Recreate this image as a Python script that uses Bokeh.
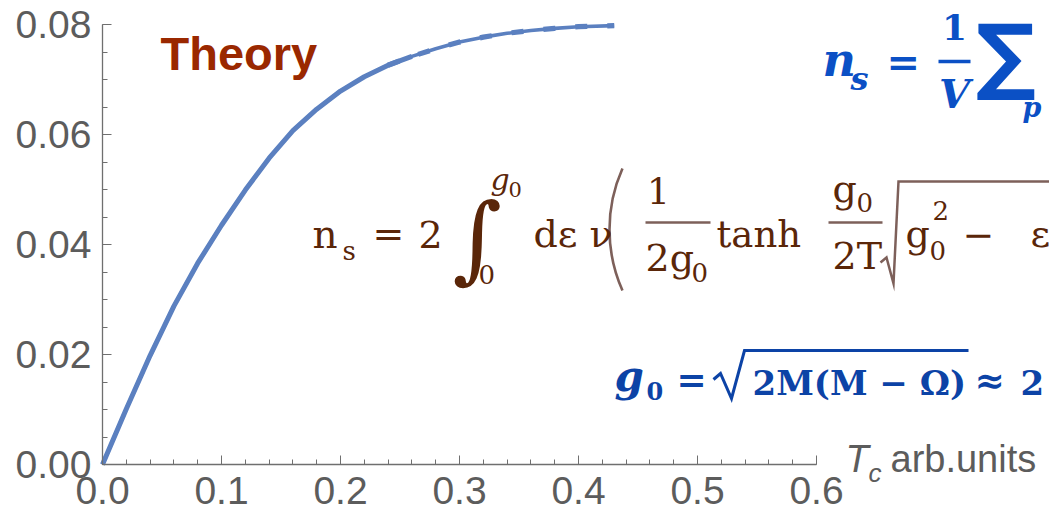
import math
from bokeh.plotting import figure
from bokeh.models import Range1d, FixedTicker, PrintfTickFormatter, Label
from bokeh.embed import file_html
from bokeh.resources import INLINE

# superfluid density n_s versus T_c (theory curve)
t_c = [0.0, 0.02, 0.04, 0.06, 0.08, 0.10, 0.12, 0.14, 0.16, 0.18, 0.20,
       0.22, 0.24, 0.26, 0.28, 0.30, 0.32, 0.34, 0.36, 0.38, 0.40, 0.43]
n_s = [0.0, 0.0101, 0.0198, 0.0288, 0.0366, 0.0435, 0.0499, 0.0557, 0.0607,
       0.0646, 0.0679, 0.0705, 0.0726, 0.0742, 0.0756, 0.0768, 0.0777,
       0.0784, 0.0789, 0.0793, 0.0796, 0.0798]

x_ticks = [0.0, 0.1, 0.2, 0.3, 0.4, 0.5, 0.6]
y_ticks = [0.0, 0.02, 0.04, 0.06, 0.08]

# canvas geometry (pixels) and scale of the data axes
W, H = 1049, 516
LEFT, BOTTOM = 102, 52
PX_X = 1190.0   # pixels per unit of T_c
PX_Y = 5500.0   # pixels per unit of n_s


def at(px, py):
    """canvas pixel (from top-left) -> data coordinates"""
    return (px - LEFT) / PX_X, (H - BOTTOM - py) / PX_Y


# the frame spans the whole canvas; axes sit at the data origin
p = figure(width=W, height=H, output_backend="svg", toolbar_location=None,
           x_range=Range1d(-LEFT / PX_X, (W - LEFT) / PX_X),
           y_range=Range1d(-BOTTOM / PX_Y, (H - BOTTOM) / PX_Y),
           min_border=0)
p.outline_line_color = None
p.grid.visible = False
p.background_fill_color = "white"
p.border_fill_color = "white"

AX = "#6f6f6f"
TXT = "#5c5c5c"
for ax, ticks, minor, bounds, fmt, standoff in (
        (p.xaxis[0], x_ticks, [i * 0.02 for i in range(31)], (0, 0.6), "%.1f", 12),
        (p.yaxis[0], y_ticks, [i * 0.005 for i in range(17)], (0, 0.08), "%.2f", 11)):
    ax.fixed_location = 0
    ax.ticker = FixedTicker(ticks=ticks, minor_ticks=minor)
    ax.formatter = PrintfTickFormatter(format=fmt)
    ax.bounds = bounds
    ax.axis_line_color = AX
    ax.axis_line_width = 1.3
    ax.major_tick_line_color = AX
    ax.minor_tick_line_color = AX
    ax.major_tick_in = 9
    ax.major_tick_out = 0
    ax.minor_tick_in = 5
    ax.minor_tick_out = 0
    ax.major_label_text_font = "Liberation Sans"
    ax.major_label_text_font_size = "39px"
    ax.major_label_text_color = TXT
    ax.major_label_standoff = standoff

# theory curve: solid lower part, thinner line with dashed overlay near saturation
BLUE = "#5b80c0"
lo = [i for i, t in enumerate(t_c) if t <= 0.26]
hi = [i for i, t in enumerate(t_c) if t >= 0.24]
p.line(t_c, n_s, line_color=BLUE, line_width=3.6)
p.line([t_c[i] for i in lo], [n_s[i] for i in lo], line_color=BLUE, line_width=5.0)
p.line([t_c[i] for i in hi], [n_s[i] for i in hi], line_color=BLUE,
       line_width=5.2, line_dash="12 20")


def put(txt, px, py, size, color, font="DejaVu Serif", style="normal",
        align="left"):
    # py is the wanted baseline; Label's box puts the glyph ~0.37 em lower
    x, y = at(px, py - 0.37 * size)
    p.add_layout(Label(x=x, y=y, text=txt, text_font=font,
                       text_font_size=f"{size}px", text_font_style=style,
                       text_color=color, text_align=align,
                       text_baseline="alphabetic"))


def stroke(points, color, width):
    xs, ys = zip(*[at(a, b) for a, b in points])
    p.line(list(xs), list(ys), line_color=color, line_width=width,
           line_join="miter")


# axis caption
put("T", 845, 473, 38, TXT, font="Liberation Sans", style="italic")
put("c", 868, 482, 26, TXT, font="Liberation Sans", style="italic")
put("arb.units", 890, 473, 38, TXT, font="Liberation Sans")

# title
put("Theory", 160, 70, 47, "#9a2800", font="Liberation Sans", style="bold")

# n_s = 1/V sum_p ...
B1 = "#0b50c5"
put("n", 822, 77, 46, B1, style="bold italic")
put("s", 850, 90, 32, B1, style="bold italic")
put("=", 886, 76, 40, B1, style="bold")
put("1", 954, 40, 36, B1, style="bold", align="center")
stroke([(938, 61), (970, 61)], B1, 3.5)
put("V", 954, 108, 40, B1, style="bold italic", align="center")
put("\u2211", 975, 86, 84, B1, font="DejaVu Sans", style="bold")
put("p", 1022, 117, 27, B1, style="bold italic")

# n_s = 2 int_0^g0 de nu ( 1/(2 g0) tanh(g0/2T) sqrt(g0^2 - e^2) ...
BR = "#5a2609"
GR = "#7d605a"
put("n", 312, 248, 39, BR)
put("s", 342, 260, 26, BR)
put("=", 372, 248, 38, BR)
put("2", 418, 248, 38, BR)
put("\u222b", 452, 273, 95, BR, style="italic")
put("g", 490, 190, 30, BR, style="italic")
put("0", 508, 197, 21, BR)
put("0", 478, 284, 26, BR)
put("d\u03b5 \u03bd", 533, 248, 38, BR)
# tall left parenthesis
r, half, top = 150.0, 61.0, 168.0
cx, cy = at(609 + r, top + half)
a = math.asin(half / r)
p.arc(x=[cx], y=[cy], radius=r, radius_units="screen",
      start_angle=math.pi - a, end_angle=math.pi + a,
      line_color=GR, line_width=2.6)
put("1", 658, 204, 36, BR, align="center")
stroke([(645, 222), (710, 222)], GR, 2.5)
put("2g", 645, 272, 38, BR)
put("0", 691, 282, 26, BR)
put("tanh", 716, 248, 37, BR)
put("g", 832, 203, 38, BR)
put("0", 856, 212, 26, BR)
stroke([(828, 222), (882, 222)], GR, 2.5)
put("2T", 832, 270, 38, BR)
stroke([(880, 262), (886, 257), (893, 283), (898, 181), (1049, 181)], GR, 2.5)
put("g", 905, 248, 38, BR)
put("0", 929, 260, 26, BR)
put("2", 932, 220, 26, BR)
put("\u2212", 962, 248, 38, BR)
put("\u03b5", 1030, 248, 38, BR)

# g0 = sqrt(2M(M - Omega)) ~ 2 ...
B2 = "#0c43a6"
put("g", 614, 392, 42, B2, style="bold italic")
put("0", 646, 399, 24, B2, style="bold")
put("=", 676, 392, 36, B2, style="bold")
stroke([(713, 379), (720, 373), (731, 398), (744, 350), (968, 350)], B2, 3.0)
put("2M(M \u2212 \u03a9)", 752, 395, 34, B2, style="bold")
put("\u2248", 974, 393, 36, B2, style="bold")
put("2", 1020, 395, 34, B2, style="bold")

open("out.html", "w").write(file_html(p, INLINE))
